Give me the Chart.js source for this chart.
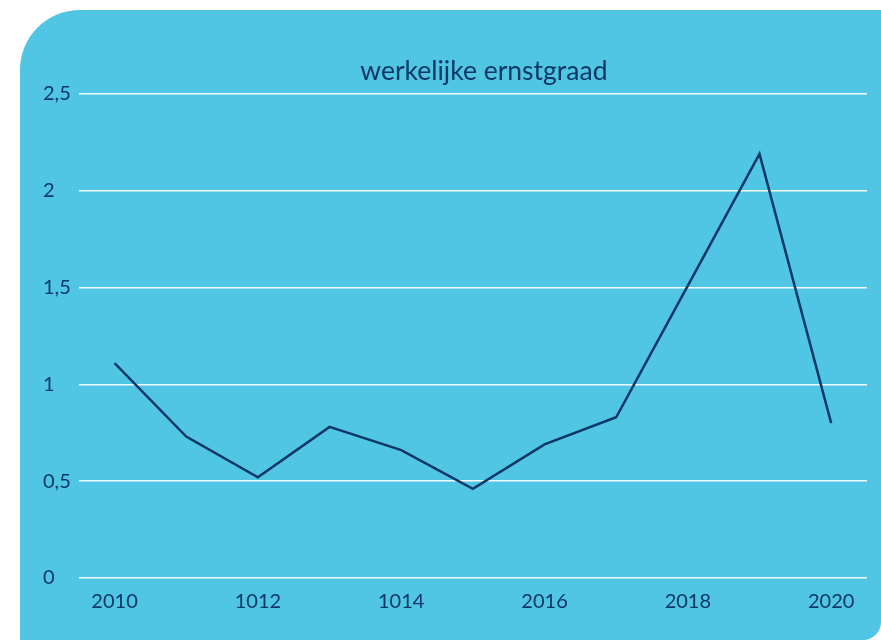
<!DOCTYPE html>
<html lang="nl">
<head>
<meta charset="UTF-8" />
<title>werkelijke ernstgraad</title>
<script src="https://cdn.jsdelivr.net/npm/chart.js@4"></script>
<style>
  html, body { margin: 0; padding: 0; background: #fff; overflow: hidden; }
  #panel {
    position: absolute; left: 20px; top: 10px; width: 861px; height: 630px;
    background: #50c5e4; border-radius: 60px 0 18px 0;
  }
  #panel canvas { display: block; }
</style>
</head>
<body>
<div id="panel"><canvas id="myChart" width="861" height="630"></canvas></div>
<script>
const years = ['2010','2011','2012','2013','2014','2015','2016','2017','2018','2019','2020'];
const ernstgraad = [1.11, 0.73, 0.52, 0.78, 0.66, 0.46, 0.69, 0.83, 1.51, 2.19, 0.80];
// the labels on the x axis, one for every other year (as printed in the original)
const xTickLabels = ['2010', '1012', '1014', '2016', '2018', '2020'];
const yTickLabels = ['0', '0,5', '1', '1,5', '2', '2,5'];

const navy = '#0c3866';
const fontFamily = 'Lato, "Noto Sans", sans-serif';

// title sits a little right of the plot centre in the original
const titleShift = {
  id: 'titleShift',
  afterLayout(chart) {
    chart.titleBlock.left += 11;
    chart.titleBlock.right += 11;
  }
};

const ctx = document.getElementById('myChart').getContext('2d');
const myChart = new Chart(ctx, {
  type: 'line',
  data: {
    labels: years,
    datasets: [{
      label: 'werkelijke ernstgraad',
      data: ernstgraad,
      borderColor: navy,
      borderWidth: 2.5,
      pointRadius: 0,
      tension: 0,
      fill: false
    }]
  },
  options: {
    responsive: false,
    animation: false,
    layout: { padding: { left: 23, right: 14, top: 0, bottom: 14 } },
    plugins: {
      legend: { display: false },
      tooltip: { enabled: false },
      title: {
        display: true,
        text: 'werkelijke ernstgraad',
        color: navy,
        fullSize: false,
        font: { family: fontFamily, size: 26.5, weight: 'normal' },
        padding: { top: 46, bottom: 6 }
      }
    },
    scales: {
      x: {
        offset: true,
        grid: { display: false, drawTicks: false },
        border: { display: false },
        ticks: {
          autoSkip: false,
          maxRotation: 0,
          padding: 12,
          color: navy,
          font: { family: fontFamily, size: 20 },
          callback: (v, i) => (i % 2 === 0 ? xTickLabels[i / 2] : '')
        }
      },
      y: {
        min: 0,
        max: 2.5,
        grid: { color: 'rgba(255,255,255,0.92)', lineWidth: 1.5, drawTicks: false },
        border: { display: false },
        ticks: {
          stepSize: 0.5,
          padding: 4,
          crossAlign: 'far',
          color: navy,
          font: { family: fontFamily, size: 20 },
          callback: (v, i) => yTickLabels[i]
        }
      }
    }
  },
  plugins: [titleShift]
});
</script>
</body>
</html>
